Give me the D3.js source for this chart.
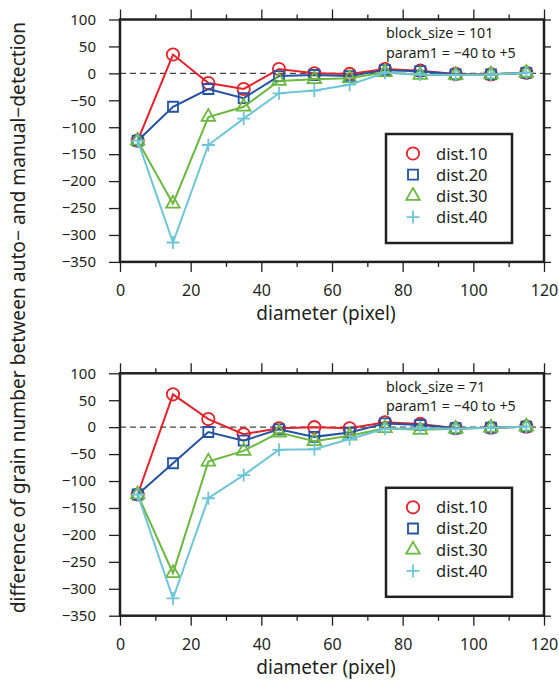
<!DOCTYPE html>
<html>
<head>
<meta charset="utf-8">
<script src="https://cdn.jsdelivr.net/npm/d3@7"></script>
<style>
body { margin: 0; background: #fff; }
text { font-family: "Noto Sans", "Open Sans", sans-serif; fill: #231f20; }
</style>
</head>
<body>
<script>
// data
const diameter = [5, 15, 25, 35, 45, 55, 65, 75, 85, 95, 105, 115];
const seriesNames = ['dist.10', 'dist.20', 'dist.30', 'dist.40'];

// block_size = 101
const top10 = [-125, 35, -18, -29, 8, 0, -1, 8, 5, -1, -2, 1];
const top20 = [-125, -62, -29, -46, -5, -3, -5, 6, 4, -2, -2, 1];
const top30 = [-125, -242, -81, -62, -14, -11, -9, 2, -3, -3, -2, 1];
const top40 = [-125, -314, -133, -84, -37, -32, -21, 1, -2, -3, -2, 1];

// block_size = 71
const bot10 = [-125, 61, 15, -13, -2, 0, -2, 9, 6, -2, -1, 1];
const bot20 = [-125, -67, -9, -25, -4, -18, -10, 7, 4, -2, -1, 1];
const bot30 = [-125, -271, -64, -44, -10, -26, -16, -2, -5, -3, -1, 1];
const bot40 = [-125, -318, -132, -89, -42, -41, -22, -3, -2, -3, -1, 1];

const xTicks = [0, 20, 40, 60, 80, 100, 120];
const yTicks = [100, 50, 0, -50, -100, -150, -200, -250, -300, -350];

const colors = ['#e52229', '#2452a4', '#6bb83f', '#6ec5d8'];

const W = 559, H = 683;
const left = 120, right = 544;
const panelH = 242.4;
const panels = [
  { top: 19.5, note: 'block_size = 101', series: [top10, top20, top30, top40] },
  { top: 373.3, note: 'block_size = 71', series: [bot10, bot20, bot30, bot40] }
];

const svg = d3.select('body').append('svg').attr('width', W).attr('height', H);

const x = d3.scaleLinear().domain([0, 120]).range([left, right]);

function marker(i) {
  if (i === 0) return d3.symbol(d3.symbolCircle, 120)();
  if (i === 1) return d3.symbol(d3.symbolSquare, 100)();
  if (i === 2) return d3.symbol(d3.symbolTriangle, 80)();
  const r = 6.5;
  return `M${-r},0H${r}M0,${-r}V${r}`;
}

panels.forEach(function (p) {
  const y = d3.scaleLinear().domain([-350, 100]).range([p.top + panelH, p.top]);
  const g = svg.append('g');

  // axes
  g.append('g').attr('transform', `translate(0,${p.top + panelH})`)
    .call(d3.axisBottom(x).tickValues(xTicks).tickSize(10).tickPadding(13).tickSizeOuter(0));
  g.append('g').attr('transform', `translate(0,${p.top + panelH})`)
    .call(d3.axisBottom(x).tickValues(d3.range(10, 120, 20)).tickSize(5).tickFormat('').tickSizeOuter(0));
  g.append('g').attr('transform', `translate(0,${p.top})`)
    .call(d3.axisTop(x).tickValues(xTicks).tickSize(10).tickFormat('').tickSizeOuter(0));
  g.append('g').attr('transform', `translate(0,${p.top})`)
    .call(d3.axisTop(x).tickValues(d3.range(10, 120, 20)).tickSize(5).tickFormat('').tickSizeOuter(0));
  const yl = g.append('g').attr('transform', `translate(${left},0)`)
    .call(d3.axisLeft(y).tickValues(yTicks).tickSize(11).tickPadding(13).tickSizeOuter(0));
  g.append('g').attr('transform', `translate(${right},0)`)
    .call(d3.axisRight(y).tickValues(yTicks).tickSize(7).tickFormat('').tickSizeOuter(0));
  g.selectAll('.domain').remove();
  g.selectAll('.tick line').attr('stroke', '#231f20').attr('stroke-width', 1.3);
  g.selectAll('.tick text').style('font-size', '16px').attr('fill', '#231f20');
  yl.selectAll('.tick text').style('font-size', '15px');

  // zero line
  g.append('line')
    .attr('x1', left).attr('x2', right)
    .attr('y1', y(0)).attr('y2', y(0))
    .attr('stroke', '#444').attr('stroke-width', 1.2).attr('stroke-dasharray', '6,4');

  // series
  p.series.forEach(function (vals, i) {
    const pts = diameter.map((d, k) => [d, vals[k]]);
    g.append('path').datum(pts)
      .attr('fill', 'none').attr('stroke', colors[i]).attr('stroke-width', 2)
      .attr('d', d3.line().x(d => x(d[0])).y(d => y(d[1])));
    g.selectAll(null).data(pts).enter().append('path')
      .attr('transform', d => `translate(${x(d[0])},${y(d[1])})`)
      .attr('d', marker(i))
      .attr('fill', 'none').attr('stroke', colors[i]).attr('stroke-width', 1.8);
  });

  // frame
  g.append('rect')
    .attr('x', left).attr('y', p.top).attr('width', right - left).attr('height', panelH)
    .attr('fill', 'none').attr('stroke', '#231f20').attr('stroke-width', 2.5);

  // note
  g.append('text').attr('x', 386).attr('y', p.top + 18.5).style('font-size', '14.3px').text(p.note);
  g.append('text').attr('x', 386).attr('y', p.top + 38).style('font-size', '14.3px').text('param1 = \u221240 to +5');

  // legend
  const lg = g.append('g').attr('transform', `translate(386,${p.top + 114.5})`);
  lg.append('rect').attr('width', 126).attr('height', 109)
    .attr('fill', '#fff').attr('stroke', '#231f20').attr('stroke-width', 2.5);
  seriesNames.forEach(function (name, i) {
    const ry = 19.5 + i * 21.2;
    lg.append('path').attr('transform', `translate(27,${ry})`).attr('d', marker(i))
      .attr('fill', 'none').attr('stroke', colors[i]).attr('stroke-width', 1.8);
    lg.append('text').attr('x', 50).attr('y', ry + 6).style('font-size', '16.5px').text(name);
  });

  // x label
  g.append('text').attr('x', 326).attr('y', p.top + panelH + 58)
    .attr('text-anchor', 'middle').style('font-size', '19px').text('diameter (pixel)');
});

// shared y label, fitted to the span it covers in the picture
const ylab = svg.append('text')
  .attr('transform', 'translate(25,317.6) rotate(-90)')
  .attr('text-anchor', 'middle').style('font-size', '18px')
  .text('difference of grain number between auto\u2212 and manual\u2212detection');
const len = ylab.node().getComputedTextLength();
ylab.style('font-size', (18 * 592 / len) + 'px');
</script>
</body>
</html>
